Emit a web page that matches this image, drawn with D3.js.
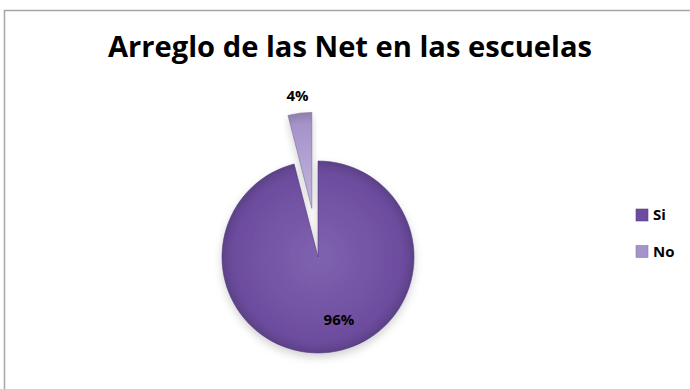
<!DOCTYPE html>
<html>
<head>
<meta charset="utf-8">
<script src="https://cdn.jsdelivr.net/npm/d3@7"></script>
<style>
  body { margin: 0; background: #fff; }
  svg { display: block; font-family: "Open Sans", "Liberation Sans", sans-serif; }
</style>
</head>
<body>
<script>
// chart data
var categories = ["Si", "No"];
var values = [96, 4];
var pctLabels = ["96%", "4%"];
var colors = ["#6c4c9e", "#a593c9"];
var lightColors = ["#7f62b0", "#c3b6de"];

var W = 690, H = 389;
var svg = d3.select("body").append("svg")
    .attr("width", W)
    .attr("height", H);

var defs = svg.append("defs");
categories.forEach(function(c, i){
    var g = defs.append("radialGradient")
        .attr("id", "grad" + i)
        .attr("gradientUnits", "userSpaceOnUse")
        .attr("cx", 0).attr("cy", 0).attr("r", 100);
    g.append("stop").attr("offset", "0%").attr("stop-color", lightColors[i]);
    g.append("stop").attr("offset", "85%").attr("stop-color", colors[i]);
    g.append("stop").attr("offset", "100%").attr("stop-color", d3.color(colors[i]).darker(0.6));
});
var f = defs.append("filter").attr("id", "shadow")
    .attr("x", "-20%").attr("y", "-20%").attr("width", "140%").attr("height", "150%");
f.append("feDropShadow").attr("dx", 0).attr("dy", 4).attr("stdDeviation", 4)
    .attr("flood-color", "#000").attr("flood-opacity", 0.18);

// chart frame
svg.append("rect")
    .attr("x", 4.5).attr("y", 10.5)
    .attr("width", W).attr("height", H)
    .attr("fill", "#fff")
    .attr("stroke", "#a6a6a6")
    .attr("stroke-width", 1.5);

// title
svg.append("text")
    .attr("x", 108).attr("y", 57)
    .attr("textLength", 484)
    .attr("lengthAdjust", "spacingAndGlyphs")
    .attr("font-size", 28)
    .attr("font-weight", "bold")
    .attr("fill", "#000")
    .text("Arreglo de las Net en las escuelas");

// pie
var cx = 318, cy = 257, r = 96, explode = 49;
var pie = d3.pie().sort(null).value(function(d){ return d; });
var arcs = pie(values);
var arc = d3.arc().innerRadius(0).outerRadius(r);
var labelArc = d3.arc().innerRadius(r * 0.66).outerRadius(r * 0.66);

var g = svg.append("g").attr("transform", "translate(" + cx + "," + cy + ")");

function offset(d, i){
    if (i === 0) return [0, 0];
    var a = (d.startAngle + d.endAngle) / 2;
    return [Math.sin(a) * explode, -Math.cos(a) * explode];
}

g.selectAll("path.slice")
    .data(arcs)
    .enter()
    .append("path")
    .attr("class", "slice")
    .attr("transform", function(d, i){
        var o = offset(d, i);
        return "translate(" + o[0] + "," + o[1] + ")";
    })
    .attr("d", arc)
    .attr("fill", function(d, i){ return "url(#grad" + i + ")"; })
    .attr("stroke", function(d, i){ return d3.color(colors[i]).darker(0.8); })
    .attr("stroke-width", 0.6)
    .attr("filter", "url(#shadow)");

// data labels
g.selectAll("text.lbl")
    .data(arcs)
    .enter()
    .append("text")
    .attr("class", "lbl")
    .attr("x", function(d, i){
        if (i === 0) return labelArc.centroid(d)[0] + 13;
        return offset(d, i)[0] + Math.sin((d.startAngle + d.endAngle) / 2) * (r + 18) ;
    })
    .attr("y", function(d, i){
        if (i === 0) return labelArc.centroid(d)[1];
        return offset(d, i)[1] - Math.cos((d.startAngle + d.endAngle) / 2) * (r + 18);
    })
    .attr("dy", "0.35em")
    .attr("text-anchor", "middle")
    .attr("font-size", 15)
    .attr("font-weight", "bold")
    .attr("fill", "#000")
    .text(function(d, i){ return pctLabels[i]; });

// legend
var legend = svg.selectAll("g.legend")
    .data(categories)
    .enter()
    .append("g")
    .attr("class", "legend")
    .attr("transform", function(d, i){ return "translate(636," + (209 + i * 36.5) + ")"; });

legend.append("rect")
    .attr("width", 12).attr("height", 12)
    .attr("fill", function(d, i){ return colors[i]; })
    .attr("stroke", function(d, i){ return d3.color(colors[i]).darker(0.5); })
    .attr("stroke-width", 0.6);

legend.append("text")
    .attr("x", 17).attr("y", 6)
    .attr("dy", "0.35em")
    .attr("font-size", 15)
    .attr("font-weight", "bold")
    .attr("fill", "#000")
    .text(function(d){ return d; });
</script>
</body>
</html>
